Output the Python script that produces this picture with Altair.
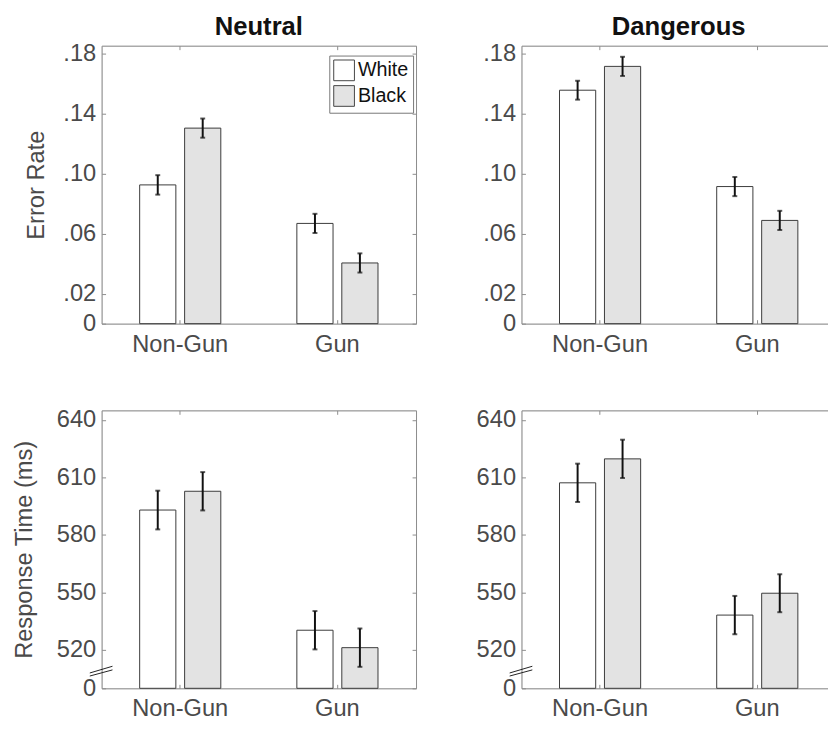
import altair as alt
import pandas as pd

conditions = ["Non-Gun", "Gun"]
races = ["White", "Black"]

# order of values: Non-Gun/White, Non-Gun/Black, Gun/White, Gun/Black
cond_col = ["Non-Gun", "Non-Gun", "Gun", "Gun"]
race_col = ["White", "Black", "White", "Black"]

err_neutral_mean = [0.0926, 0.1305, 0.0669, 0.0405]
err_neutral_sem = [0.0065, 0.0064, 0.0064, 0.0064]
err_danger_mean = [0.1558, 0.1717, 0.0915, 0.0689]
err_danger_sem = [0.0063, 0.0064, 0.0064, 0.0064]
rt_neutral_mean = [593.0, 602.8, 530.3, 521.2]
rt_neutral_sem = [10.1, 10.0, 10.0, 10.0]
rt_danger_mean = [607.2, 619.7, 538.2, 549.6]
rt_danger_sem = [10.0, 10.0, 10.0, 9.9]

err_ticks = [0, 0.02, 0.06, 0.10, 0.14, 0.18]
rt_ticks = [500, 520, 550, 580, 610, 640]

LABEL = "#4a4a4a"
BOX = "#8c8c8c"
FONT = "Liberation Sans"

legend = alt.Legend(
    title=None, orient="none", legendX=231, legendY=10,
    symbolType="square", symbolSize=441, symbolStrokeColor="#444444",
    symbolStrokeWidth=1, labelFontSize=20, labelColor="#111111",
    labelFont=FONT, labelOffset=3, padding=4, strokeColor="#777777",
    fillColor="white", rowPadding=0, symbolOpacity=1,
)


def frame_axis(orient):
    return alt.Axis(title=None, orient=orient, domain=True, domainColor=BOX,
                    domainWidth=1, ticks=False, labels=False, grid=False)


def panel(means, sems, domain, ticks, label_expr, ytitle, title,
          title_pad, show_break, height):
    df = pd.DataFrame({"cond": cond_col, "race": race_col,
                       "mean": means, "sem": sems})
    base = alt.Chart(df).transform_calculate(
        lo="datum.mean - datum.sem", hi="datum.mean + datum.sem"
    )
    xscale = alt.Scale(domain=conditions, paddingInner=0, paddingOuter=0)
    xoff = alt.XOffset("race:N", sort=races,
                       scale=alt.Scale(domain=races, paddingInner=0.195,
                                       paddingOuter=0.846))
    yscale = alt.Scale(domain=domain, nice=False, zero=False)

    yaxis_kw = dict(values=ticks, labelExpr=label_expr, orient="left",
                    offset=-4, tickSize=4, tickColor=BOX, domain=False,
                    grid=False, labelFontSize=24, labelColor=LABEL,
                    labelFont=FONT, labelPadding=6, titleFontSize=24,
                    titleColor=LABEL, titleFont=FONT, titleFontWeight="normal",
                    titlePadding=title_pad)
    if ytitle:
        yaxis = alt.Axis(title=ytitle, **yaxis_kw)
    else:
        yaxis = alt.Axis(title=None, **yaxis_kw)

    bars = base.mark_bar(stroke="#3a3a3a", strokeWidth=1).encode(
        x=alt.X("cond:N", sort=conditions, scale=xscale,
                axis=alt.Axis(title=None, orient="bottom", offset=-4,
                              tickSize=4, tickColor=BOX, domain=False,
                              grid=False, labelAngle=0, labelFontSize=24,
                              labelColor=LABEL, labelFont=FONT,
                              labelPadding=9)),
        xOffset=xoff,
        y=alt.Y("mean:Q", scale=yscale, axis=yaxis),
        y2=alt.datum(domain[0]),
        fill=alt.Fill("race:N", sort=races,
                      scale=alt.Scale(domain=races,
                                      range=["#ffffff", "#e3e3e3"]),
                      legend=legend),
    )
    rules = base.mark_rule(color="#111111", strokeWidth=2).encode(
        x=alt.X("cond:N", sort=conditions, scale=xscale,
                axis=alt.Axis(title=None, orient="top", offset=-4,
                              tickSize=4, tickColor=BOX, domain=False,
                              grid=False, labels=False)),
        xOffset=xoff,
        y=alt.Y("lo:Q", scale=yscale,
                axis=alt.Axis(title=None, orient="right", offset=-4,
                              values=ticks, tickSize=4, tickColor=BOX,
                              domain=False, labels=False, grid=False)),
        y2="hi:Q",
    )
    cap_lo = base.mark_tick(color="#111111", thickness=2, size=5).encode(
        x=alt.X("cond:N", sort=conditions, scale=xscale,
                axis=frame_axis("bottom")),
        xOffset=xoff,
        y=alt.Y("lo:Q", scale=yscale, axis=frame_axis("left")),
    )
    cap_hi = base.mark_tick(color="#111111", thickness=2, size=5).encode(
        x=alt.X("cond:N", sort=conditions, scale=xscale,
                axis=frame_axis("top")),
        xOffset=xoff,
        y=alt.Y("hi:Q", scale=yscale, axis=frame_axis("right")),
    )
    layers = [bars, rules, cap_lo, cap_hi]
    if show_break:
        brk = alt.Chart(alt.Data(values=[{"k": 1}]))
        b1 = brk.mark_rule(color="#222222", strokeWidth=1).encode(
            x=alt.value(-12), x2=alt.value(11),
            y=alt.YDatum(508.0, axis=None, scale=yscale), y2=alt.datum(511.5))
        b2 = brk.mark_rule(color="#222222", strokeWidth=1).encode(
            x=alt.value(-12), x2=alt.value(11),
            y=alt.YDatum(506.4, axis=None, scale=yscale), y2=alt.datum(509.6))
        layers += [b1, b2]
    ch = alt.layer(*layers).resolve_axis(x="independent", y="independent")
    props = dict(width=319, height=height)
    if title:
        props["title"] = alt.TitleParams(title, fontSize=26, fontWeight="bold",
                                         color="#111111", font=FONT,
                                         anchor="middle", offset=2)
    return ch.properties(**props)


err_expr = "datum.value == 0 ? '0' : replace(format(datum.value, '.2f'), '0.', '.')"
rt_expr = "datum.value == 500 ? '0' : format(datum.value, 'd')"

p1 = panel(err_neutral_mean, err_neutral_sem, [0, 0.1855], err_ticks, err_expr,
           "Error Rate", "Neutral", 15, False, 282)
p2 = panel(err_danger_mean, err_danger_sem, [0, 0.1855], err_ticks, err_expr,
           None, "Dangerous", 15, False, 282)
p3 = panel(rt_neutral_mean, rt_neutral_sem, [500, 645], rt_ticks, rt_expr,
           "Response Time (ms)", None, 20, True, 282)
p4 = panel(rt_danger_mean, rt_danger_sem, [500, 645], rt_ticks, rt_expr,
           None, None, 20, True, 282)

chart = alt.concat(p1, p2, p3, p4, columns=2, align="each",
                   spacing={"row": 51, "column": 59},
                   padding={"left": 4, "top": 0, "right": -9, "bottom": 0}
                   ).configure_view(strokeWidth=0, stroke="transparent"
                   ).configure(font=FONT)

chart.save("out.html", embed_options={"renderer": "svg", "actions": False})
